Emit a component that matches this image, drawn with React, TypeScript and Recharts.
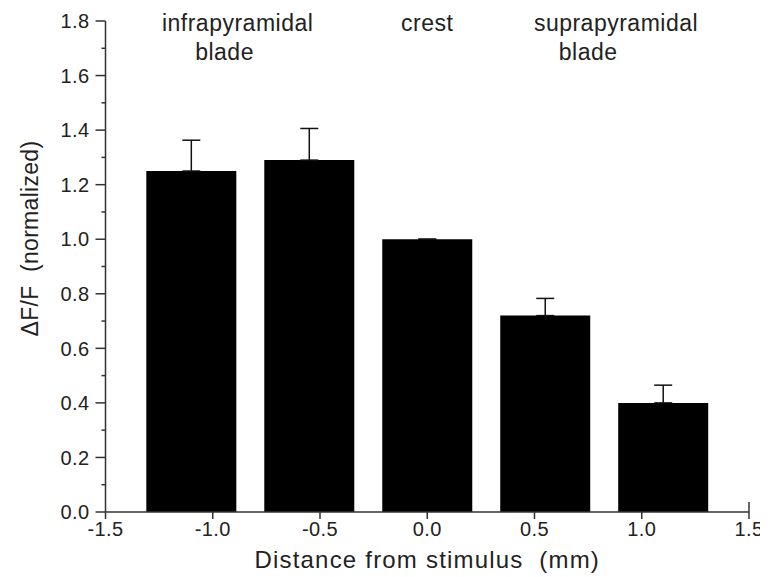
import React from "react"
import {
  ComposedChart,
  Bar,
  ErrorBar,
  XAxis,
  YAxis,
  ReferenceDot,
  Label,
} from "recharts"

// bar positions (mm) and normalized dF/F
const distances = [-1.1, -0.55, 0, 0.55, 1.1]
const meanValues = [1.25, 1.29, 1.0, 0.72, 0.4]
const errUpper = [0.113, 0.116, 0, 0.063, 0.065]

const xTicks = [-1.5, -1.0, -0.5, 0, 0.5, 1.0, 1.5]
const yTicks = [0, 0.1, 0.2, 0.3, 0.4, 0.5, 0.6, 0.7, 0.8, 0.9, 1.0, 1.1, 1.2, 1.3, 1.4, 1.5, 1.6, 1.7, 1.8]

const regionText = ["infrapyramidal", "blade", "crest", "suprapyramidal", "blade"]
const regionX = [-0.884, -0.945, 0, 0.88, 0.75]
const regionLine = [0, 1, 0, 0, 1]

const data = distances.map((d, i) => ({
  d,
  v: meanValues[i],
  err: [0, errUpper[i]],
}))

const regions = regionText.map((t, i) => ({ t, x: regionX[i], line: regionLine[i] }))

const FONT = "'Liberation Sans', Arial, sans-serif"
const TEXT = "#222"
const AXIS = "#333"

function YTick(props: any) {
  const { x, y, payload } = props
  const v = payload.value as number
  const major = Math.round(v * 10) % 2 === 0
  return (
    <g>
      <line x1={x - (major ? 10 : 4)} x2={x} y1={y} y2={y} stroke={AXIS} strokeWidth={1.5} />
      {major && (
        <text
          x={x - 16}
          y={y}
          dy="0.36em"
          textAnchor="end"
          fontSize={20}
          letterSpacing={0.4}
          fill={TEXT}
          fontFamily={FONT}
        >
          {v.toFixed(1)}
        </text>
      )}
    </g>
  )
}

function XTick(props: any) {
  const { x, y, payload, index } = props
  const v = payload.value as number
  const last = index === xTicks.length - 1
  return (
    <g>
      <line x1={x} x2={x} y1={last ? y - 10 : y} y2={y + 7} stroke={AXIS} strokeWidth={1.5} />
      <text
        x={x}
        y={y + 24}
        textAnchor="middle"
        fontSize={20}
        letterSpacing={0.4}
        fill={TEXT}
        fontFamily={FONT}
      >
        {v.toFixed(1)}
      </text>
    </g>
  )
}

function regionShape(text: string, line: number) {
  return (p: any) => (
    <text
      x={p.cx}
      y={p.cy + (line === 0 ? 10 : 39)}
      textAnchor="middle"
      fontSize={23}
      letterSpacing={0.5}
      fill={TEXT}
      fontFamily={FONT}
    >
      {text}
    </text>
  )
}

export default function App() {
  return (
    <ComposedChart
      width={760}
      height={569}
      data={data}
      margin={{ top: 13, right: 19, bottom: 0, left: 0 }}
    >
      <XAxis
        dataKey="d"
        type="number"
        domain={[-1.5, 1.5]}
        ticks={xTicks}
        interval={0}
        height={65}
        tickSize={0}
        tickMargin={0}
        tickLine={false}
        tick={<XTick />}
        axisLine={{ stroke: AXIS, strokeWidth: 1.5 }}
      >
        <Label
          content={(p: any) => (
            <text
              x={p.viewBox.x + p.viewBox.width / 2}
              y={p.viewBox.y + 56}
              textAnchor="middle"
              fontSize={24}
              letterSpacing={1.2}
              fill={TEXT}
              fontFamily={FONT}
              style={{ whiteSpace: "pre" }}
            >
              {"Distance from stimulus  (mm)"}
            </text>
          )}
        />
      </XAxis>
      <YAxis
        type="number"
        domain={[0, 1.8]}
        ticks={yTicks}
        interval={0}
        width={97.5}
        tickSize={0}
        tickMargin={0}
        tickLine={false}
        tick={<YTick />}
        axisLine={{ stroke: AXIS, strokeWidth: 1.5 }}
      >
        <Label
          content={(p: any) => {
            const cx = p.viewBox.x + 22
            const cy = p.viewBox.y + p.viewBox.height / 2 - 28
            return (
              <text
                x={cx}
                y={cy}
                dy="0.36em"
                transform={`rotate(-90 ${cx} ${cy})`}
                textAnchor="middle"
                fontSize={23}
                letterSpacing={0.3}
                fill={TEXT}
                fontFamily={FONT}
                style={{ whiteSpace: "pre" }}
              >
                {"ΔF/F  (normalized)"}
              </text>
            )
          }}
        />
      </YAxis>
      <Bar dataKey="v" fill="#000" barSize={90} isAnimationActive={false}>
        <ErrorBar
          dataKey="err"
          direction="y"
          width={9}
          stroke="#111"
          strokeWidth={1.5}
          isAnimationActive={false}
        />
      </Bar>
      {regions.map((r, i) => (
        <ReferenceDot
          key={i}
          x={r.x}
          y={1.8}
          r={0}
          ifOverflow="visible"
          shape={regionShape(r.t, r.line)}
        />
      ))}
    </ComposedChart>
  )
}
